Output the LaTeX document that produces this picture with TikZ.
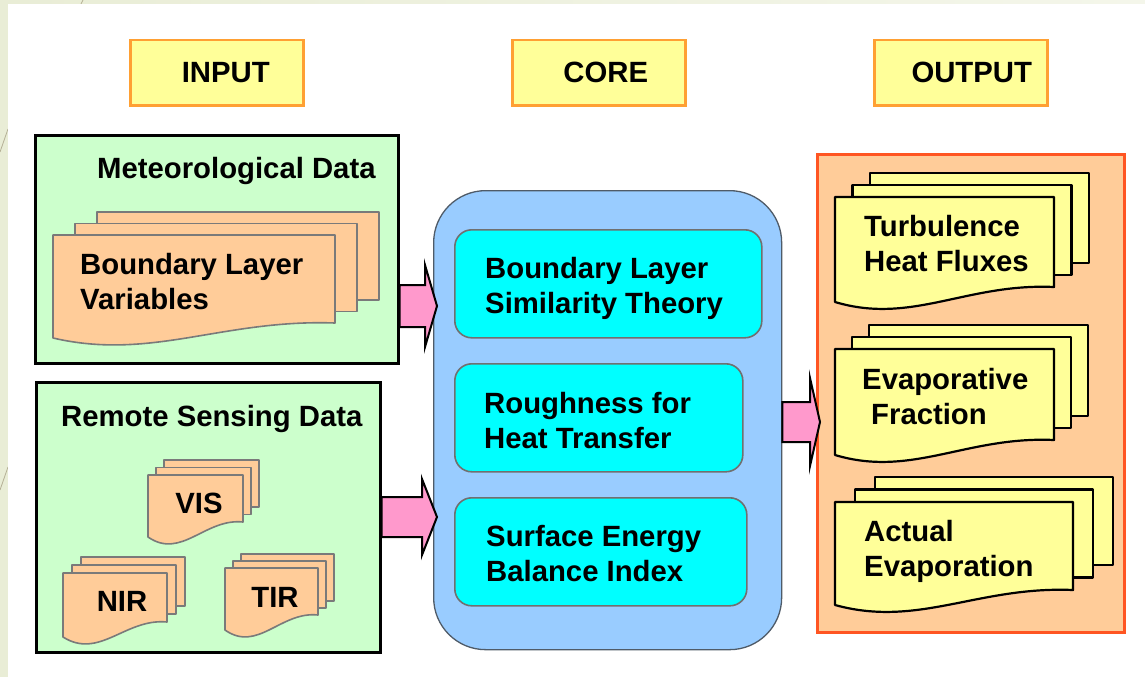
\documentclass[tikz,border=0pt]{standalone}
\usepackage{fontspec}
\setmainfont{Liberation Sans}
\usetikzlibrary{calc}

\definecolor{slidebg}{HTML}{E9EDD6}
\definecolor{slidebgr}{HTML}{F4F6EA}
\definecolor{decoline}{HTML}{B5B096}
\definecolor{hdrfill}{HTML}{FFFF99}
\definecolor{hdrline}{HTML}{FFA033}
\definecolor{ingreen}{HTML}{CCFFCC}
\definecolor{peach}{HTML}{FFCC99}
\definecolor{docgray}{HTML}{7A7A7A}
\definecolor{coreblue}{HTML}{99CCFF}
\definecolor{coreline}{HTML}{4F5B68}
\definecolor{cyanbox}{HTML}{00FFFF}
\definecolor{cyanline}{HTML}{707070}
\definecolor{outline}{HTML}{FF5522}
\definecolor{paleyellow}{HTML}{FFFF99}
\definecolor{arrowpink}{HTML}{FF99CC}

% stacked document pages: style, left x, top y, width, height, page shift x, page shift y
\newcommand\multidoc[7]{%
  \draw[#1] ({#2+2*#6},{#3-2*#7}) rectangle ++(#4,#5);
  \draw[#1] ({#2+#6},{#3-#7}) rectangle ++(#4,#5);
  \draw[#1] (#2,#3) -- ({#2+#4},#3) -- ({#2+#4},{#3+#5})
    .. controls ({#2+0.6*#4},{#3+#5-4}) and ({#2+0.35*#4},{#3+#5+38}) ..
    (#2,{#3+#5+15}) -- cycle;}

% block arrow: from node, to node, centre y, shaft half height, head half height, head length
\newcommand\fatarrow[6]{%
  \draw[fatarrow] let \p1=(#1.east |- 0,#3), \p2=(#2.west |- 0,#3) in
    (\x1,{\y1+#4pt}) -- ({\x2+4pt-#6pt},{\y1+#4pt}) -- ({\x2+4pt-#6pt},{\y1+#5pt})
    -- ({\x2+4pt},\y1) -- ({\x2+4pt-#6pt},{\y1-#5pt}) -- ({\x2+4pt-#6pt},{\y1-#4pt})
    -- (\x1,{\y1-#4pt}) -- cycle;}

\begin{document}
\begin{tikzpicture}[x=1pt,y=-1pt,
  txt/.style={inner sep=0pt, align=left, font=\fontsize{29.3}{35.5}\selectfont\bfseries},
  hdr/.style={draw=hdrline, fill=hdrfill, line width=2.5pt, minimum width=173pt,
    minimum height=65pt, anchor=north west, inner sep=0pt,
    font=\fontsize{29.3}{34}\selectfont\bfseries},
  inbox/.style={draw=black, fill=ingreen, line width=2.6pt, anchor=north west, inner sep=0pt},
  outbox/.style={draw=outline, fill=peach, line width=2.5pt, anchor=north west, inner sep=0pt},
  corebox/.style={draw=coreline, fill=coreblue, line width=1.3pt, rounded corners=52pt,
    anchor=north west, inner sep=0pt},
  stepbox/.style={draw=cyanline, fill=cyanbox, line width=1.6pt, rounded corners=17pt,
    anchor=north west, inner sep=0pt},
  indoc/.style={draw=docgray, fill=peach, line width=1.6pt, line join=round},
  outdoc/.style={draw=black, fill=paleyellow, line width=2.2pt, line join=round},
  fatarrow/.style={draw=black, fill=arrowpink, line width=2pt, line join=miter},
  deco/.style={draw=decoline, line width=0.8pt}]

\useasboundingbox (0,0) rectangle (1145,677);

% slide frame
\fill[slidebg] (0,0) rectangle (8,677);
\shade[left color=slidebg, right color=slidebgr] (0,0) rectangle (1145,4);
\draw[deco] (83,0) -- (81,4);
\draw[deco] (0,152) -- (8,129);
\draw[deco] (0,490) -- (8,467);
\fill[white] (8,4) rectangle (1145,677);

% column headings
\node[hdr] (hin) at (129,39) {\hspace*{18pt}INPUT};
\node[hdr] (hcore) at (511,39) {\hspace*{14pt}CORE};
\node[hdr] (hout) at (873,39) {\hspace*{22pt}OUTPUT};

% input panels
\node[inbox, minimum width=363pt, minimum height=228pt] (met) at (34,134) {};
\node[inbox, minimum width=344pt, minimum height=270pt] (rs) at (35,381) {};
\node[txt, anchor=north west] (mettitle) at (97,157) {Meteorological Data};
\node[txt, anchor=north west] (rstitle) at (61,405) {Remote Sensing Data};

\multidoc{indoc}{53}{235}{282}{88}{22}{11.5}
\node[txt, anchor=north west] (blv) at (80,253) {Boundary Layer\\Variables};

\multidoc{indoc}{148}{475}{95}{47}{8}{7.5}
\node[txt] (vis) at (199,503) {VIS};
\multidoc{indoc}{63}{573}{104}{49}{9}{8}
\node[txt] (nir) at (122,601) {NIR};
\multidoc{indoc}{225}{568}{93}{47}{8}{7}
\node[txt] (tir) at (275,597) {TIR};

% core model
\node[corebox, minimum width=348pt, minimum height=459pt] (core) at (433,190) {};
\node[stepbox, minimum width=307pt, minimum height=108pt] (s1) at (454,229) {};
\node[stepbox, minimum width=288pt, minimum height=108pt] (s2) at (454,363) {};
\node[stepbox, minimum width=292pt, minimum height=108pt] (s3) at (454,497) {};
\node[txt, anchor=north west] (blst) at (485,257) {Boundary Layer\\Similarity Theory};
\node[txt, anchor=north west] (rht) at (484,392) {Roughness for\\Heat Transfer};
\node[txt, anchor=north west] (sebi) at (486,525) {Surface Energy\\Balance Index};

% output panel
\node[outbox, minimum width=307pt, minimum height=478pt] (out) at (816,153) {};
\multidoc{outdoc}{835}{197}{219}{90}{17.5}{12}
\node[txt, anchor=north west] (thf) at (864,215) {Turbulence\\Heat Fluxes};
\multidoc{outdoc}{835}{349}{219}{91}{17}{12}
\node[txt, anchor=north west] (ef) at (862,368) {Evaporative\\\hspace*{9pt}Fraction};
\multidoc{outdoc}{835}{502}{238}{88}{20}{12.5}
\node[txt, anchor=north west] (ae) at (864,520) {Actual\\Evaporation};

% data flow
\fatarrow{met}{core}{306}{21}{41}{12}
\fatarrow{rs}{core}{517}{20}{38}{15}
\fatarrow{core}{out}{422}{20}{44}{10}

\end{tikzpicture}
\end{document}
